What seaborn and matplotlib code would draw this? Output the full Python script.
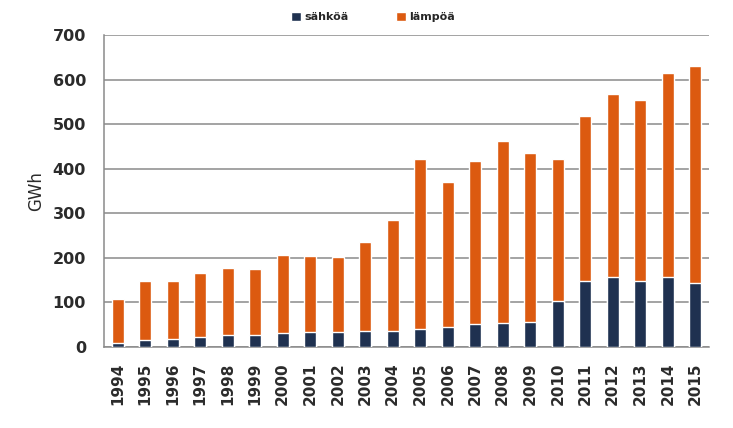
import matplotlib
matplotlib.use("Agg")
import matplotlib.pyplot as plt
from matplotlib.patches import Patch
import numpy as np
import pandas as pd
import seaborn as sns

years = [str(y) for y in range(1994, 2016)]
sahko = [8, 16, 19, 22, 28, 28, 32, 34, 34, 37, 37, 40, 45, 51, 53, 56,
         104, 149, 156, 149, 156, 144]
lampo = [100, 133, 128, 145, 149, 148, 175, 171, 169, 198, 248, 382, 326, 367,
         409, 380, 317, 369, 412, 406, 458, 487]

navy = "#1f3150"
orange = "#dc5a10"
grid_col = "#8a8a8a"
text_col = "#2b2b2b"

df = pd.DataFrame({"vuosi": years, "sahko": sahko, "lampo": lampo})
df["yht"] = df["sahko"] + df["lampo"]

sns.set_style("white")
fig = plt.figure(figsize=(7.33, 4.28), dpi=100)
ax = fig.add_axes([104 / 733, 81 / 428, 605 / 733, 312 / 428])

# stacked: total in orange, electricity drawn over it
sns.barplot(data=df, x="vuosi", y="yht", color=orange, width=0.44,
            saturation=1, ax=ax, zorder=3)
sns.barplot(data=df, x="vuosi", y="sahko", color=navy, width=0.44,
            saturation=1, ax=ax, zorder=4)

ax.set_ylim(0, 700)
ax.set_xlim(-0.5, len(years) - 0.5)
ax.set_yticks(np.arange(0, 701, 100))
ax.yaxis.grid(True, color=grid_col, linewidth=1.1, zorder=0)
ax.set_axisbelow(True)

ax.set_xticks(np.arange(len(years)))
ax.set_xticklabels(years, rotation=90, fontsize=11, fontweight="bold", color=text_col)
ax.set_xticks(np.arange(len(years) + 1) - 0.5, minor=True)
ax.tick_params(axis="x", which="major", length=0, pad=11)
ax.tick_params(axis="x", which="minor", length=4.5, color=grid_col, width=1)
ax.tick_params(axis="y", length=6, color=grid_col, width=1, pad=7,
               labelsize=11.5, labelcolor=text_col)
for lbl in ax.get_yticklabels():
    lbl.set_fontweight("bold")

for side in ["top", "right"]:
    ax.spines[side].set_visible(False)
for side in ["left", "bottom"]:
    ax.spines[side].set_color(grid_col)
    ax.spines[side].set_linewidth(1.1)

ax.set_xlabel("")
ax.set_ylabel("GWh", fontsize=12, color=text_col, labelpad=5)

handles = [Patch(facecolor=navy, label="sähköä"), Patch(facecolor=orange, label="lämpöä")]
fig.legend(handles=handles, loc="center", bbox_to_anchor=(373 / 733, 1 - 17 / 428),
           ncol=2, frameon=False, handlelength=0.9, handleheight=0.9,
           handletextpad=0.3, columnspacing=4.3,
           prop={"size": 8, "weight": "bold"})

plt.savefig("out.png", dpi=100)
